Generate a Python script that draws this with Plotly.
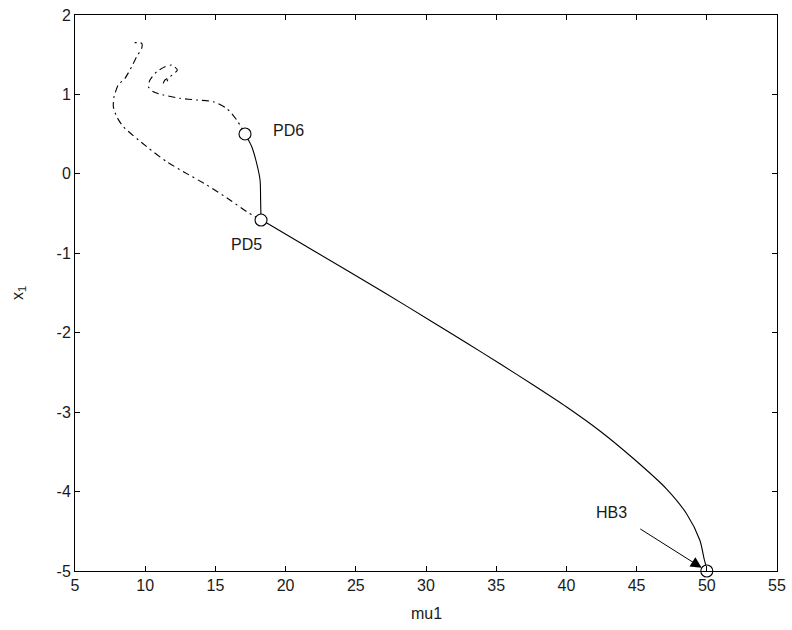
import plotly.graph_objects as go

# Stable branch: from the Hopf point HB3 up to the period-doubling point PD5
stable_mu = [50.0, 49.93, 49.80, 49.50, 48.57, 47.14, 44.77, 42.39, 40.02,
             37.64, 35.27, 32.90, 30.52, 26.96, 22.21, 18.30]
stable_x1 = [-5.0, -4.93, -4.84, -4.610, -4.282, -3.968, -3.584, -3.237, -2.935,
             -2.658, -2.391, -2.129, -1.871, -1.487, -0.990, -0.581]

# Short stable segment PD5 -> PD6
seg_mu = [18.25, 18.22, 18.18, 17.94, 17.59, 17.11]
seg_x1 = [-0.581, -0.33, -0.077, 0.133, 0.342, 0.502]

# Unstable branch leaving PD5
unst1_mu = [18.25, 17.23, 16.04, 14.38, 12.72, 11.53, 10.11, 8.44, 7.97,
            7.73, 7.78, 8.08, 8.56, 9.04, 9.39, 9.75, 9.75, 9.04]
unst1_x1 = [-0.581, -0.476, -0.329, -0.140, 0.027, 0.153, 0.342, 0.594, 0.720,
            0.846, 0.971, 1.119, 1.203, 1.349, 1.475, 1.581, 1.644, 1.651]

# Unstable branch leaving PD6, ending in a small spiral
unst2_mu = [17.11, 16.52, 15.80, 14.85, 13.67, 12.48, 11.29, 10.58, 10.22,
            10.34, 10.82, 11.41, 11.89, 12.29, 11.77, 11.41, 11.29, 11.53, 11.65]
unst2_x1 = [0.502, 0.678, 0.825, 0.908, 0.930, 0.951, 0.993, 1.034, 1.097,
            1.182, 1.286, 1.349, 1.370, 1.308, 1.223, 1.182, 1.140, 1.160, 1.203]

# Special points
pt_names = ["PD6", "PD5", "HB3"]
pt_mu = [17.11, 18.25, 50.0]
pt_x1 = [0.502, -0.581, -5.0]

# Axis ticks
x_ticks = list(range(5, 56, 5))
y_ticks = list(range(-5, 3))

FONT = "Liberation Sans, Arial, sans-serif"
TXT = "#1a1a1a"

fig = go.Figure()
line_solid = dict(color="black", width=1.1, shape="spline", smoothing=0.8)
line_dd = dict(color="black", width=1.1, dash="7px,4px,2px,4px",
               shape="spline", smoothing=0.6)

fig.add_trace(go.Scatter(x=stable_mu, y=stable_x1, mode="lines", line=line_solid))
fig.add_trace(go.Scatter(x=seg_mu, y=seg_x1, mode="lines", line=line_solid))
fig.add_trace(go.Scatter(x=unst1_mu, y=unst1_x1, mode="lines", line=line_dd))
fig.add_trace(go.Scatter(x=unst2_mu, y=unst2_x1, mode="lines", line=line_dd))
fig.add_trace(go.Scatter(
    x=pt_mu, y=pt_x1, mode="markers", cliponaxis=False,
    marker=dict(symbol="circle", size=12, color="white",
                line=dict(color="black", width=1.1))))

# Labels for the special points
lab_font = dict(family=FONT, size=16, color=TXT)
fig.add_annotation(x=pt_mu[0], y=pt_x1[0], text=pt_names[0], showarrow=False,
                   xanchor="left", yanchor="middle", xshift=26, yshift=3,
                   font=lab_font)
fig.add_annotation(x=pt_mu[1], y=pt_x1[1], text=pt_names[1], showarrow=False,
                   xanchor="center", yanchor="top", xshift=-15, yshift=-14,
                   font=lab_font)
fig.add_annotation(x=pt_mu[2], y=pt_x1[2], text=pt_names[2], showarrow=False,
                   xanchor="center", yanchor="middle", xshift=-95, yshift=59,
                   font=lab_font)
fig.add_annotation(x=pt_mu[2], y=pt_x1[2], text="", showarrow=True,
                   ax=-68, ay=-43, arrowhead=2, arrowsize=2.2, arrowwidth=1,
                   arrowcolor="black", standoff=6)

# Axis titles
fig.add_annotation(xref="paper", yref="paper", x=0.5, y=0, yshift=-42,
                   text="mu1", showarrow=False, xanchor="center", yanchor="middle",
                   font=dict(family=FONT, size=16, color=TXT))
fig.add_annotation(xref="paper", yref="paper", x=0, y=0.5, xshift=-57,
                   text="x<sub>1</sub>", showarrow=False, textangle=-90,
                   xanchor="center", yanchor="middle",
                   font=dict(family=FONT, size=16, color=TXT))

axis_common = dict(showline=True, linecolor="black", linewidth=1, mirror="allticks",
                   ticks="inside", ticklen=5, tickcolor="black", showgrid=False,
                   zeroline=False, automargin=False,
                   tickfont=dict(family=FONT, size=16, color=TXT))

fig.update_xaxes(range=[5, 55], tickvals=x_ticks,
                 ticktext=[str(v) for v in x_ticks], **axis_common)
fig.update_yaxes(range=[-5, 2], tickvals=y_ticks,
                 ticktext=[str(v) for v in y_ticks], **axis_common)

fig.update_layout(width=792, height=630, showlegend=False,
                  plot_bgcolor="white", paper_bgcolor="white",
                  margin=dict(l=75, r=15, t=15, b=59))

fig.write_html("out.html")
